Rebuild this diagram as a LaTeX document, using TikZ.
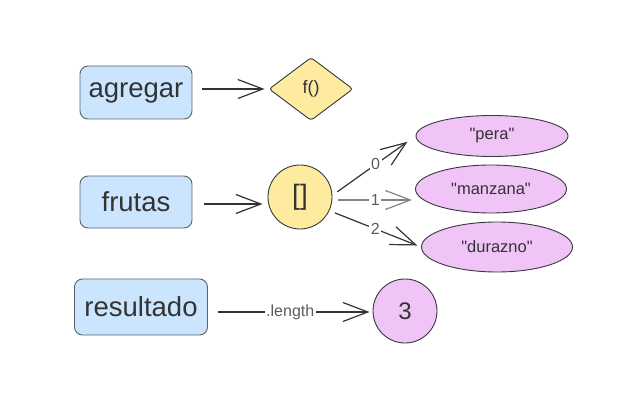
\documentclass[tikz,border=0pt]{standalone}
\usepackage{fontspec}
\setmainfont{Liberation Sans}[Ligatures=TeXOff]
\usetikzlibrary{arrows.meta,shapes.geometric}
\definecolor{boxblue}{HTML}{CCE5FF}
\definecolor{boxyellow}{HTML}{FFEBA0}
\definecolor{boxpink}{HTML}{F0C4F7}
\definecolor{strokegrey}{HTML}{36393D}
\definecolor{txt}{HTML}{333333}
\tikzset{
  varbox/.style={draw=strokegrey!80, fill=boxblue, rounded corners=8pt, line width=0.9pt, inner sep=0pt, font=\fontsize{27.5}{32}\selectfont, text=txt},
  conn/.style={draw=txt, line width=1.2pt, -{Straight Barb[length=25pt,width=19pt,line width=1.2pt]}},
  elab/.style={fill=white, inner sep=1.5pt, font=\fontsize{16}{19}\selectfont, text=txt!80},
  item/.style={ellipse, draw=strokegrey, fill=boxpink, line width=0.9pt, inner sep=0pt, font=\fontsize{16.5}{19}\selectfont, text=txt},
}
\begin{document}
\begin{tikzpicture}[x=1pt,y=-1pt]
\useasboundingbox (0,0) rectangle (639,414);
% nodes
\node[varbox, minimum width=112pt, minimum height=53pt] (agregar) at (136,92.5) {agregar};
\node[diamond, aspect=1.33, draw=strokegrey, fill=boxyellow, line width=0.9pt, minimum width=84pt, minimum height=63pt, inner sep=0pt, rounded corners=3pt, font=\fontsize{18}{21}\selectfont, text=txt] (func) at (311,89) {f()};
\node[varbox, minimum width=112pt, minimum height=52pt] (frutas) at (136,202) {frutas};
\node[circle, draw=strokegrey, fill=boxyellow, line width=0.9pt, minimum size=64pt, inner sep=0pt, font=\fontsize{28}{32}\selectfont, text=txt] (arr) at (300,197) {[]};
\node[item, minimum width=152pt, minimum height=41pt] (pera) at (492,136) {"pera"};
\node[item, minimum width=151pt, minimum height=48pt] (manzana) at (491,189) {"manzana"};
\node[item, minimum width=151pt, minimum height=50pt] (durazno) at (497,247) {"durazno"};
\node[varbox, minimum width=133pt, minimum height=56pt] (resultado) at (141,307) {resultado};
\node[circle, draw=strokegrey, fill=boxpink, line width=0.9pt, minimum size=64pt, inner sep=0pt, font=\fontsize{24}{28}\selectfont, text=txt] (tres) at (405,311) {3};
% connectors
\draw[conn, shorten <=10pt, shorten >=4pt] (func.west -| agregar.east) -- (func.west);
\draw[conn, shorten <=12pt, shorten >=5pt] (frutas.east |- 0,204) -- (arr.west |- 0,204);
\draw[conn, shorten <=10pt, shorten >=3pt] (resultado.east |- 0,312) -- node[elab] {.length} (tres.west |- 0,312);
\draw[conn, shorten <=6pt, shorten >=10pt] (arr.3) -- node[elab, pos=0.52] {0} (pera.west);
\draw[conn, draw=txt!60, shorten <=6pt, shorten >=3pt] (arr.east |- 0,200) -- node[elab, pos=0.52] {1} (manzana.west |- 0,200);
\draw[conn, shorten <=6pt, shorten >=4pt] (arr.-25) -- node[elab] {2} (durazno.west);
\end{tikzpicture}
\end{document}
